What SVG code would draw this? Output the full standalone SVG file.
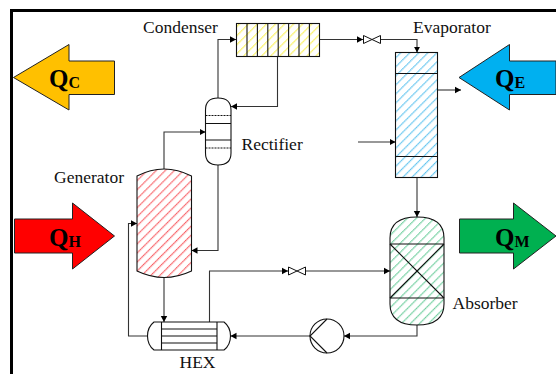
<svg xmlns="http://www.w3.org/2000/svg" width="556" height="374" viewBox="0 0 556 374">
<style>
.l{font-family:"Liberation Serif","Times New Roman",serif;font-size:17.5px;fill:#111}
.q{font-family:"Liberation Serif","Times New Roman",serif;font-size:25px;font-weight:bold;fill:#000}
.s{font-size:16px}
.a{stroke:#222;stroke-width:1}
.e{stroke:#111;stroke-width:1.1;fill:none}
.c{stroke:#333;stroke-width:1.1;fill:none;marker-end:url(#m)}
</style>
<defs>
<marker id="m" markerUnits="userSpaceOnUse" markerWidth="7" markerHeight="8" refX="6" refY="4" orient="auto"><path d="M0 .8L6 4L0 7.200Z" fill="#000"/></marker>
<pattern id="hr" width="6.4" height="6.4" patternUnits="userSpaceOnUse" patternTransform="rotate(45)"><rect width="6.4" height="6.4" fill="#fff"/><path d="M.7 0V6.4" stroke="#f4161e" stroke-width=".9" stroke-dasharray="1.3 .3"/></pattern>
<pattern id="hy" width="6.4" height="6.4" patternUnits="userSpaceOnUse" patternTransform="rotate(45)"><rect width="6.4" height="6.4" fill="#fff"/><path d="M.7 0V6.4" stroke="#f7ea00" stroke-width=".9" stroke-dasharray="1.3 .3"/></pattern>
<pattern id="hb" width="6.4" height="6.4" patternUnits="userSpaceOnUse" patternTransform="rotate(45)"><rect width="6.4" height="6.4" fill="#fff"/><path d="M.7 0V6.4" stroke="#14a8e8" stroke-width=".9" stroke-dasharray="1.3 .3"/></pattern>
<pattern id="hg" width="6.4" height="6.4" patternUnits="userSpaceOnUse" patternTransform="rotate(45)"><rect width="6.4" height="6.4" fill="#fff"/><path d="M.7 0V6.4" stroke="#25b56c" stroke-width=".9" stroke-dasharray="1.3 .3"/></pattern>
</defs>
<rect width="556" height="374" fill="#fff"/>
<path id="frame" d="M11.5 374V10.500H556" fill="none" stroke="#000" stroke-width="3"/>
<g id="QC"><path class="a" d="M13.500 77.500L69 44.500V61H114.500V94.500H69V110Z" fill="#ffc000"/><text class="q" x="49" y="87">Q<tspan class="s" dy="1">C</tspan></text></g>
<g id="QE"><path class="a" d="M459 77.500L509.500 44.500V61H556V94.500H509.500V110Z" fill="#00b0f0"/><text class="q" x="495" y="87">Q<tspan class="s" dy="1">E</tspan></text></g>
<g id="QH"><path class="a" d="M14.500 219H72.500V203L114.500 236L72.500 269V253H14.500Z" fill="#f00"/><text class="q" x="49" y="246">Q<tspan class="s" dy="1">H</tspan></text></g>
<g id="QM"><path class="a" d="M459.500 219H513.500V203L556 236L513.500 269V253H459.500Z" fill="#00b050"/><text class="q" x="495" y="246">Q<tspan class="s" dy="1">M</tspan></text></g>
<g id="connectors">
<path class="c" d="M218 98V39.500H236"/>
<path class="c" d="M277.500 56.500V106.500H231"/>
<path class="c" d="M164 169V132H205.500"/>
<path class="c" d="M218 165V250.500H191.500"/>
<path class="c" d="M164 278V322"/>
<path class="c" d="M147.500 336H128.500V223.500H137"/>
<path class="c" d="M319.500 39.500H363"/>
<path class="c" d="M381 39.500H417V52.500"/>
<path class="c" d="M437.500 90H461"/>
<path class="c" d="M358 142H395.500"/>
<path class="c" d="M417 177.500V217"/>
<path class="c" d="M209.500 322V271H288"/>
<path class="c" d="M306 271H390"/>
<path class="c" d="M417 325V336H344"/>
<path class="c" d="M310 336H230.500"/>
</g>
<g id="v1" fill="#fff" stroke="#111" stroke-width="1"><path d="M363.500 35.500V43.500L372 39.500ZM380.500 35.500V43.500L372 39.500Z"/></g>
<g id="v2" fill="#fff" stroke="#111" stroke-width="1"><path d="M288.500 267V275L297 271ZM305.500 267V275L297 271Z"/></g>
<g id="Condenser"><rect class="e" x="236.500" y="23.500" width="83" height="33" style="fill:url(#hy)"/><path class="e" d="M247 23.500V56.500M257.400 23.500V56.500M267.800 23.500V56.500M278.200 23.500V56.500M288.600 23.500V56.500M299 23.500V56.500M309.400 23.500V56.500"/><text class="l" x="143" y="33">Condenser</text></g>
<g id="Rectifier"><path class="e" d="M205.500 110Q205.500 98 218 98Q231 98 231 110V153Q231 165 218 165Q205.500 165 205.500 153Z" style="fill:#fff"/><path class="e" d="M205.500 115.500H231M205.500 148H231" stroke-dasharray="2 1"/><path class="e" d="M205.500 123.500H231M205.500 140H231"/><text class="l" x="241.500" y="150">Rectifier</text></g>
<g id="Generator"><path class="e" d="M137 176Q164 162 191.500 176V271Q164 284 137 271Z" style="fill:url(#hr)"/><text class="l" x="54" y="183">Generator</text></g>
<g id="Evaporator"><rect class="e" x="395.500" y="52.500" width="42" height="125" style="fill:url(#hb)"/><path class="e" d="M395.500 73.500H437.500M395.500 156.500H437.500"/><text class="l" x="413" y="33">Evaporator</text></g>
<g id="Absorber"><path class="e" d="M390 238Q390 217 417 217Q444 217 444 238V304Q444 325 417 325Q390 325 390 304Z" style="fill:url(#hg)"/><path class="e" d="M390 244H444M390 298H444M390 244L444 298M444 244L390 298"/><text class="l" x="452.500" y="309">Absorber</text></g>
<g id="Pump"><circle class="e" cx="327" cy="336" r="17" style="fill:#fff"/><path class="e" d="M327 319L310 336L327 353"/></g>
<g id="HEX"><path class="e" d="M154 322Q147.500 327 147.500 336Q147.500 345 154 350H224Q230.500 345 230.500 336Q230.500 327 224 322Z" style="fill:#fff"/><path class="e" d="M161.500 322V350M217 322V350M161.500 329H217M161.500 336H217M161.500 343H217"/><text class="l" x="179.500" y="368">HEX</text></g>
</svg>
